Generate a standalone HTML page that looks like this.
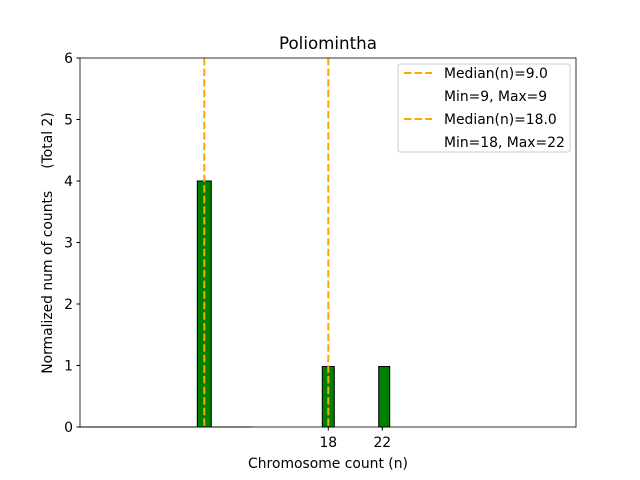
<!DOCTYPE html>
<html><head><style>body{margin:0;background:#fff}svg{display:block}text{white-space:pre}</style></head><body>
<svg width="640" height="480" xmlns="http://www.w3.org/2000/svg" font-family="DejaVu Sans, Liberation Sans, sans-serif" xml:space="preserve">
<rect width="640" height="480" fill="#fff"/>
<line x1="80" y1="427" x2="252" y2="427" stroke="#000" stroke-width="1"/>
<rect x="197.3" y="181" width="14" height="246" fill="#008000" stroke="#000" stroke-width="1"/>
<rect x="322.3" y="366.5" width="12" height="60.5" fill="#008000" stroke="#000" stroke-width="1"/>
<rect x="378.7" y="366.5" width="11" height="60.5" fill="#008000" stroke="#000" stroke-width="1"/>
<line x1="204.3" y1="58" x2="204.3" y2="427" stroke="#ffa500" stroke-width="2" stroke-dasharray="7.4,3.2"/>
<line x1="328.3" y1="58" x2="328.3" y2="427" stroke="#ffa500" stroke-width="2" stroke-dasharray="7.4,3.2"/>
<rect x="80" y="58" width="496" height="369" fill="none" stroke="#000" stroke-width="0.8"/>
<g font-size="13.9" fill="#000" text-anchor="end">
<g stroke="#000"><line x1="76.5" y1="427" x2="80" y2="427"/><line x1="76.5" y1="365.5" x2="80" y2="365.5"/><line x1="76.5" y1="304" x2="80" y2="304"/><line x1="76.5" y1="242.5" x2="80" y2="242.5"/><line x1="76.5" y1="181" x2="80" y2="181"/><line x1="76.5" y1="119.5" x2="80" y2="119.5"/><line x1="76.5" y1="58" x2="80" y2="58"/>
<line x1="328.3" y1="427" x2="328.3" y2="430.5"/><line x1="382.3" y1="427" x2="382.3" y2="430.5"/></g>
<text x="73" y="432">0</text><text x="73" y="370.5">1</text><text x="73" y="309">2</text><text x="73" y="247.5">3</text><text x="73" y="186">4</text><text x="73" y="124.5">5</text><text x="73" y="63">6</text>
</g>
<g font-size="13.9" text-anchor="middle">
<text x="328.3" y="447">18</text><text x="382.3" y="447">22</text>
<text x="328" y="468">Chromosome count (n)</text>
<text x="328" y="49" font-size="16.7">Poliomintha</text>
<text transform="translate(52,243) rotate(-90)">Normalized num of counts     (Total 2)</text>
</g>
<rect x="398" y="64" width="172" height="88" fill="#fff" stroke="#ccc" stroke-width="1" rx="2"/>
<g stroke="#ffa500" stroke-width="2" stroke-dasharray="7.4,3.2"><line x1="404" y1="73" x2="432" y2="73"/><line x1="404" y1="119" x2="432" y2="119"/></g>
<g font-size="13.9" fill="#000">
<text x="444" y="78">Median(n)=9.0</text>
<text x="444" y="101">Min=9, Max=9</text>
<text x="444" y="124">Median(n)=18.0</text>
<text x="444" y="147">Min=18, Max=22</text>
</g>
</svg>
</body></html>
